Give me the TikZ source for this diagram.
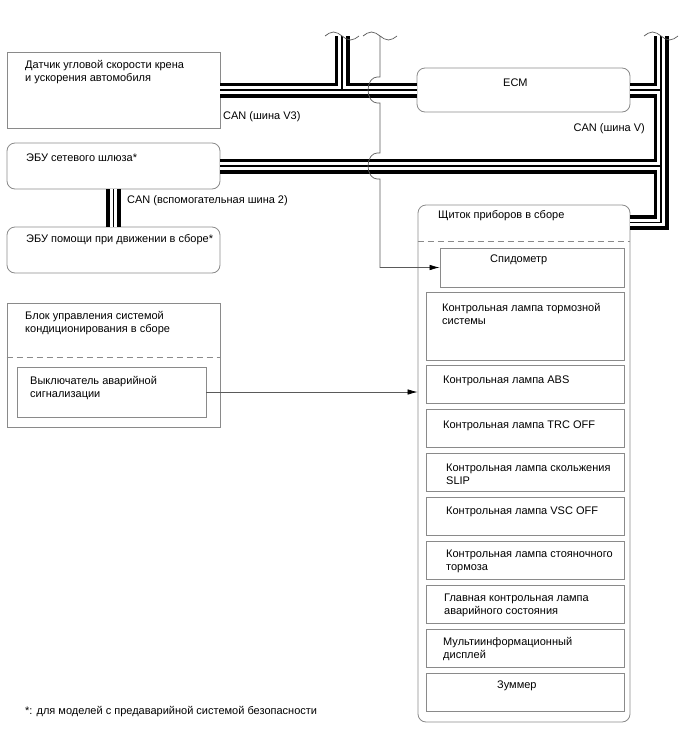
\documentclass[tikz,border=0pt]{standalone}
\usepackage{fontspec}
\setmainfont{Liberation Sans}
\usetikzlibrary{arrows.meta}

\definecolor{boxgray}{HTML}{8A8A8A}
\definecolor{linegray}{HTML}{5A5A5A}
\newcommand{\diagfont}{\fontsize{11}{13.5}\selectfont}

\begin{document}
\begin{tikzpicture}[
    x=1pt, y=-1pt,
    ecubox/.style={rectangle, draw=boxgray, line width=0.8pt, inner sep=0pt},
    ecuround/.style={ecubox, rounded corners=8pt},
    lampbox/.style={ecubox, minimum width=198pt, minimum height=38pt},
    boxtxt/.style={anchor=base west, inner sep=0pt, align=left, font=\diagfont},
    busouter/.style={line width=15pt, black},
    busgap/.style={line width=7.5pt, white},
    buscore/.style={line width=1.1pt, black},
    sigline/.style={draw=linegray, line width=0.7pt},
    sigarrow/.style={sigline, -{Latex[length=10pt, width=5.5pt, color=black]}},
    breakmark/.style={draw=linegray, line width=0.7pt},
    sepline/.style={draw=boxgray, line width=0.7pt, dash pattern=on 6pt off 4pt},
]
\useasboundingbox (0,0) rectangle (688,755);

% --- Control units (left column) ---
\node[ecubox, minimum width=213pt, minimum height=76pt] (sensor) at (113.5, 90) {};
\node[ecuround, minimum width=213pt, minimum height=46pt] (gateway) at (113.5, 166) {};
\node[ecuround, minimum width=213pt, minimum height=46pt] (assist) at (113.5, 250) {};
\node[ecubox, minimum width=213pt, minimum height=124pt] (aircon) at (113.5, 365) {};
\node[ecubox, minimum width=189pt, minimum height=50pt] (hazard) at (111.5, 392) {};

% --- ECM and combination meter ---
\node[ecuround, minimum width=213pt, minimum height=44pt] (ecm) at (523.5, 90) {};
\node[ecuround, minimum width=212pt, minimum height=517pt] (cluster) at (524, 463.5) {};
\node[ecubox, minimum width=184pt, minimum height=39pt] (speedo) at (532, 267.5) {};
\node[lampbox, minimum height=68pt] (brake) at (525, 326) {};
\node[lampbox] (abs) at (525, 384) {};
\node[lampbox] (trc) at (525, 428.5) {};
\node[lampbox] (slip) at (525, 472.5) {};
\node[lampbox] (vsc) at (525, 516.5) {};
\node[lampbox] (park) at (525, 560.5) {};
\node[lampbox] (master) at (525, 604.5) {};
\node[lampbox] (mid) at (525, 648.5) {};
\node[lampbox] (buzzer) at (525, 692.5) {};

% --- Separators inside the assemblies ---
\draw[sepline] ([yshift=-37pt]cluster.north west) -- ([yshift=-37pt]cluster.north east);
\draw[sepline] ([yshift=-55pt]aircon.north west) -- ([yshift=-55pt]aircon.north east);

% --- Box texts (base = last line) ---
\node[boxtxt] (sensor-txt) at (25, 81.5) {Датчик угловой скорости крена\\и ускорения автомобиля};
\node[boxtxt] (gateway-txt) at (26, 161) {ЭБУ сетевого шлюза*};
\node[boxtxt] (assist-txt) at (26, 242) {ЭБУ помощи при движении в сборе*};
\node[boxtxt] (aircon-txt) at (25, 332.5) {Блок управления системой\\кондиционирования в сборе};
\node[boxtxt] (hazard-txt) at (30, 397.5) {Выключатель аварийной\\сигнализации};
\node[boxtxt] (ecm-txt) at (503, 86) {ECM};
\node[boxtxt] (cluster-txt) at (438, 218) {Щиток приборов в сборе};
\node[boxtxt] (speedo-txt) at (490, 262) {Спидометр};
\node[boxtxt] (brake-txt) at (442, 324.5) {Контрольная лампа тормозной\\системы};
\node[boxtxt] (abs-txt) at (443, 383) {Контрольная лампа ABS};
\node[boxtxt] (trc-txt) at (443, 428) {Контрольная лампа TRC OFF};
\node[boxtxt] (slip-txt) at (446, 484.5) {Контрольная лампа скольжения\\SLIP};
\node[boxtxt] (vsc-txt) at (446, 514) {Контрольная лампа VSC OFF};
\node[boxtxt] (park-txt) at (446, 570.5) {Контрольная лампа стояночного\\тормоза};
\node[boxtxt] (master-txt) at (444, 614.5) {Главная контрольная лампа\\аварийного состояния};
\node[boxtxt] (mid-txt) at (443, 658.5) {Мультиинформационный\\дисплей};
\node[boxtxt] (buzzer-txt) at (497, 688) {Зуммер};

% --- Bus labels and footnote ---
\node[boxtxt] (v3-lbl) at (223, 119) {CAN (шина V3)};
\node[boxtxt, anchor=base east] (v-lbl) at (645, 131) {CAN (шина V)};
\node[boxtxt] (sub2-lbl) at (127, 203) {CAN (вспомогательная шина 2)};
\node[boxtxt] (note) at (25, 714) {*: для моделей с предаварийной системой безопасности};

% --- Broken-off ends at the top ---
\coordinate (v3top) at (342, 36);
\coordinate (sptop) at (380, 36);
\coordinate (vtop) at (661, 36);

% --- CAN buses (outer, gap, core) ---
\foreach \lay in {busouter, busgap, buscore} {
  \draw[\lay] (sensor.east) -- (ecm.west);
  \draw[\lay] (v3top) -- (v3top |- sensor.east);
  \draw[\lay] (ecm.east) -- (ecm.east -| vtop);
  \draw[\lay] (gateway.east) -- (gateway.east -| vtop);
  \draw[\lay] (vtop) |- ([yshift=-18pt]cluster.north east);
  \draw[\lay] (gateway.south) -- (assist.north);
}

% --- Signal lines ---
\draw[sigarrow] (sptop) -- ([yshift=13pt]sptop |- sensor.east) -- ++(-3,0)
    arc[start angle=-90, end angle=-270, x radius=9, y radius=13] -- ++(3,0)
    -- ([yshift=13pt]sptop |- gateway.east) -- ++(-3,0)
    arc[start angle=-90, end angle=-270, x radius=9, y radius=13] -- ++(3,0)
    |- (speedo.west);
\draw[sigarrow] (hazard.east) -- (hazard.east -| cluster.west);

\foreach \brk in {v3top, sptop, vtop}
  \draw[breakmark] ([xshift=-17pt]\brk) sin ++(8.5,-4) cos ++(8.5,4) sin ++(8.5,4) cos ++(8.5,-4);

\end{tikzpicture}
\end{document}
